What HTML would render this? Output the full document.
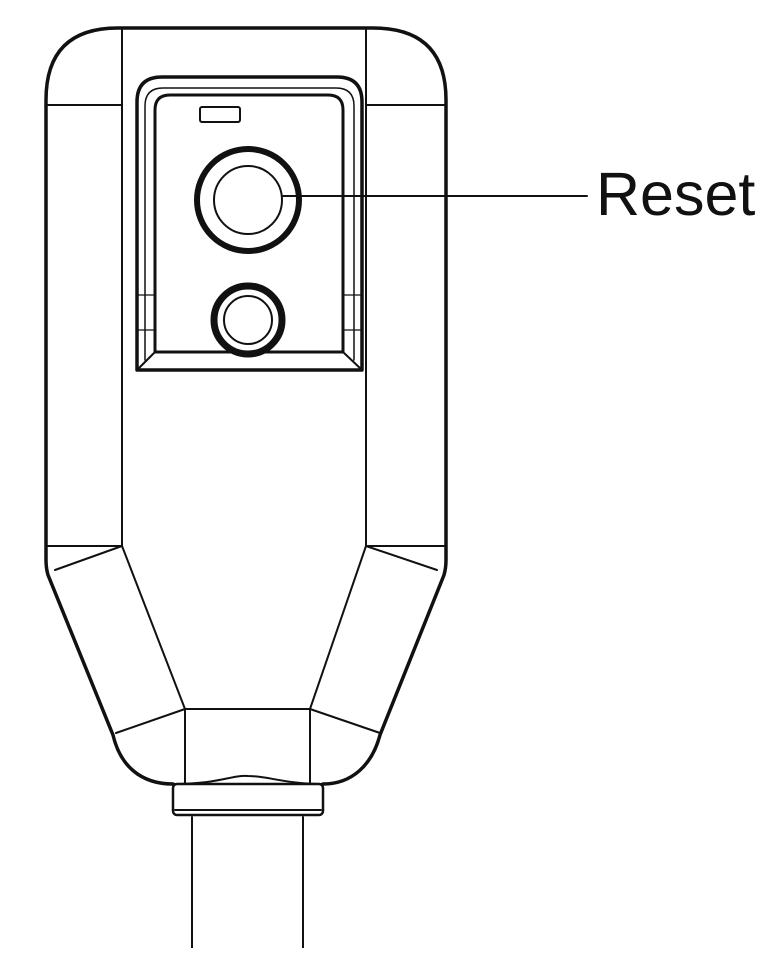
<!DOCTYPE html>
<html><head><style>html,body{margin:0;padding:0;background:#fff}</style></head><body>
<svg width="780" height="948" viewBox="0 0 780 948" xmlns="http://www.w3.org/2000/svg" fill="none" stroke="#111" stroke-linejoin="round" stroke-linecap="round">
<!-- outer body -->
<path d="M173,784 C140,784 120,765 113,735 L48,575 Q46,568 46,560 L46,100 Q46,28 118,28 L373,28 Q446,28 446,100 L446,560 Q446,568 444,575 L380,735 C372,765 352,784 323,784" stroke-width="3.5"/>
<!-- inner verticals -->
<path d="M122,28 V546 M366,28 V546" stroke-width="2"/>
<path d="M47,105 H122 M366,105 H445 M47,546 H122 M366,546 H445" stroke-width="2"/>
<!-- diagonals -->
<path d="M122,546 L185,709 L310,709 L366,546" stroke-width="2"/>
<path d="M55,570 L122,546 M366,546 L437,570 M116,733 L185,709 M310,709 L380,733" stroke-width="2"/>
<path d="M185,709 V783 M310,709 V783" stroke-width="2"/>
<path d="M173,784 C220,784 230,775 248,776 C268,776 285,784 323,784" stroke-width="2"/>
<!-- collar -->
<rect x="173" y="784" width="150" height="31" rx="4" stroke-width="2.5"/>
<path d="M175,810 H321" stroke-width="2"/>
<!-- cable -->
<path d="M192,817 V948 M303,817 V948" stroke-width="2"/>
<!-- reset panel -->
<path d="M137,370 V102 Q137,77 162,77 H337 Q362,77 362,102 V370 Z" stroke-width="3.5"/>
<path d="M145,360 V106 Q145,88 163,88 H336 Q354,88 354,106 V360" stroke-width="1.5"/>
<path d="M155,352 V110 Q155,95 170,95 H328 Q343,95 343,110 V352 Z" stroke-width="3"/>
<path d="M137,370 L155,352 M362,370 L343,352" stroke-width="2"/>
<path d="M137,295 H155 M343,295 H362 M137,330 H155 M343,330 H362" stroke-width="1.2"/>
<rect x="200" y="107" width="40" height="15" rx="2" stroke-width="2"/>
<circle cx="248" cy="200" r="51" stroke-width="6"/>
<circle cx="248" cy="200" r="34" stroke-width="2"/>
<circle cx="248" cy="320" r="34" stroke-width="7"/>
<circle cx="248" cy="320" r="24" stroke-width="2"/>
<path d="M282,196 H587" stroke-width="2"/>
<text x="596" y="215" font-family="Liberation Sans, Arial, sans-serif" font-size="61" fill="#111" stroke="none">Reset</text>
</svg>
</body></html>
